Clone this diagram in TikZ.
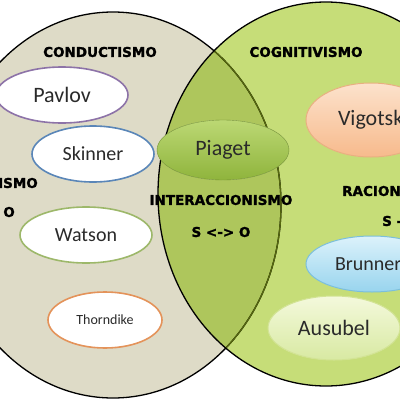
\documentclass[tikz,border=0pt]{standalone}
\usepackage{fontspec}
\setmainfont{Carlito}
\newfontfamily\headfont{DejaVu Sans}[BoldFeatures={FakeBold=1.6}]
\usepackage{tikz}
\usetikzlibrary{shapes.geometric,positioning}
\definecolor{clBeige}{HTML}{DEDBC7}
\definecolor{clGreen}{HTML}{C6DD78}
\definecolor{clOverlap}{HTML}{AEC65C}
\definecolor{clOlive}{HTML}{56680E}
\definecolor{clPavlov}{HTML}{8D73A8}
\definecolor{clSkinner}{HTML}{5A86B8}
\definecolor{clWatson}{HTML}{9DB86A}
\definecolor{clThorn}{HTML}{E4935A}
\definecolor{clText}{HTML}{2A2A2A}
\definecolor{clPiagetTop}{HTML}{BCD874}
\definecolor{clPiagetBot}{HTML}{8FB43C}
\definecolor{clVigTop}{HTML}{FCE2CC}
\definecolor{clVigBot}{HTML}{F7BA8C}
\definecolor{clVigLine}{HTML}{E8B080}
\definecolor{clBruTop}{HTML}{DCF2FB}
\definecolor{clBruBot}{HTML}{98D4EE}
\definecolor{clBruLine}{HTML}{7CBFDA}
\definecolor{clAusTop}{HTML}{F4F9DC}
\definecolor{clAusBot}{HTML}{D8E9A2}
\definecolor{clAusLine}{HTML}{D2E394}
\tikzset{
  person/.style={ellipse, draw, line width=1.6pt, fill=white, text=clText,
                 inner sep=0pt, minimum width=130pt, minimum height=56pt},
  theory/.style={font=\headfont\bfseries\fontsize{13.5}{15}\selectfont, text=black, inner sep=0pt},
  bigname/.style={font=\fontsize{22}{24}\selectfont},
  midname/.style={font=\fontsize{20}{22}\selectfont},
}
\begin{document}
\begin{tikzpicture}[x=1pt, y=-1pt]
  \useasboundingbox (0,0) rectangle (400,400);
  \clip (0,0) rectangle (400,400);
  \fill[white] (0,0) rectangle (400,400);
  % two big fields
  \fill[clBeige] (113,205) ellipse [x radius=168, y radius=193];
  \fill[clGreen] (326,194) ellipse [x radius=168, y radius=192];
  \begin{scope}
    \clip (113,205) ellipse [x radius=168, y radius=193];
    \fill[clOverlap] (326,194) ellipse [x radius=168, y radius=192];
  \end{scope}
  \draw[line width=1.3pt, black] (113,205) ellipse [x radius=168, y radius=193];
  \begin{scope}
    \clip (326,194) ellipse [x radius=168, y radius=192];
    \draw[line width=1.3pt, clOlive] (113,205) ellipse [x radius=168, y radius=193];
  \end{scope}
  \draw[line width=1.3pt, black] (326,194) ellipse [x radius=168, y radius=192];

  % conductismo side
  \node[person, draw=clPavlov, bigname, minimum width=132pt] (pavlov) at (62,95) {Pavlov};
  \node[person, draw=clSkinner, midname, minimum width=122pt] (skinner) at (93,154) {Skinner};
  \node[person, draw=clWatson, midname, minimum width=132pt] (watson) at (86,235) {Watson};
  \node[person, draw=clThorn, font=\fontsize{14}{16}\selectfont, minimum width=114pt] (thorndike) at (105,320) {Thorndike};

  % cognitivismo side
  \node[person, draw=clAusLine, line width=1pt, bigname, minimum width=132pt, minimum height=64pt,
        top color=clAusTop, bottom color=clAusBot] (ausubel) at (334,328) {Ausubel};
  \node[person, draw=clVigLine, line width=1pt, bigname, minimum width=130pt, minimum height=74pt,
        top color=clVigTop, bottom color=clVigBot] (vigotsky) at (371,120) {\makebox[80pt][l]{\hspace*{7pt}Vigotsky}};
  \node[person, draw=clBruLine, line width=1pt, midname, minimum width=132pt, minimum height=56pt,
        top color=clBruTop, bottom color=clBruBot] (brunner) at (372,264) {\makebox[80pt][l]{\hspace*{3pt}Brunner}};

  % shared
  \node[person, draw=clPiagetBot!80!black, line width=0.4pt, bigname, minimum width=132pt, minimum height=60pt,
        top color=clPiagetTop, bottom color=clPiagetBot] (piaget) at (223,150) {Piaget};

  % titles
  \node[theory] (cond) at (100,52) {CONDUCTISMO};
  \node[theory] (cogn) at (306,52) {COGNITIVISMO};
  \node[theory] (inter) at (221,200) {INTERACCIONISMO};
  \node[theory] (sio) at (221,232) {S <-> O};
  \node[theory, anchor=east] (emp) at (38,183) {ISMO};
  \node[theory, anchor=east] (empo) at (15,212) {O};
  \node[theory, anchor=west] (rac) at (342,191) {RACIONALISMO};
  \node[theory, anchor=west] (racs) at (382,221) {S -};
\end{tikzpicture}
\end{document}
